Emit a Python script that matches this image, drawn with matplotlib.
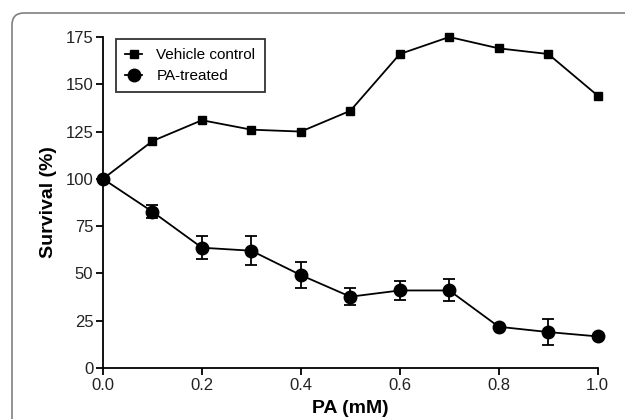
import matplotlib
matplotlib.use("Agg")
import matplotlib.pyplot as plt
from matplotlib.path import Path
from matplotlib.patches import PathPatch
from matplotlib.lines import Line2D

plt.rcParams['font.family'] = ['Liberation Sans', 'DejaVu Sans']

x = [0.0, 0.1, 0.2, 0.3, 0.4, 0.5, 0.6, 0.7, 0.8, 0.9, 1.0]
vehicle = [100, 120, 131, 126, 125, 136, 166, 175, 169, 166, 144]
pa = [100, 82.6, 63.6, 62.0, 49.1, 37.7, 41.0, 41.0, 21.8, 19.0, 16.7]
pa_err = [0, 3.5, 6.0, 7.6, 7.0, 4.6, 5.2, 5.8, 0, 7.0, 0]
xticks = [0.0, 0.2, 0.4, 0.6, 0.8, 1.0]
yticks = [0, 25, 50, 75, 100, 125, 150, 175]

W, H = 625, 419
fig = plt.figure(figsize=(W/100, H/100), dpi=100)

# rounded outer frame (top-left corner only visible), pixel coords from top-left
x0, ytop, r = 12, 13, 12
verts = [(x0, H + 10), (x0, ytop + r), (x0, ytop), (x0 + r, ytop), (W + 10, ytop)]
codes = [Path.MOVETO, Path.LINETO, Path.CURVE3, Path.CURVE3, Path.LINETO]
verts = [(vx / W, 1 - vy / H) for vx, vy in verts]
frame = PathPatch(Path(verts, codes), transform=fig.transFigure, fill=False,
                  edgecolor='#808080', linewidth=1.2)
fig.patches.append(frame)

ax = fig.add_axes([103/W, 51/H, (597.7-103)/W, (368-37)/H])
ax.plot(x, vehicle, color='black', marker='s', markersize=6, linewidth=1.3,
        clip_on=False, zorder=3)
ax.errorbar(x, pa, yerr=pa_err, color='black', marker='o', markersize=9,
            linewidth=1.3, elinewidth=1.3, capsize=4, capthick=1.3,
            clip_on=False, zorder=3)

ax.set_xlim(0, 1.0)
ax.set_ylim(0, 175)
ax.set_xticks(xticks)
ax.set_xticklabels([f"{t:.1f}" for t in xticks])
ax.set_yticks(yticks)
for s in ['top', 'right']:
    ax.spines[s].set_visible(False)
for s in ['left', 'bottom']:
    ax.spines[s].set_linewidth(1.3)
ax.tick_params(direction='out', length=5, width=1.3, labelsize=12, colors='black',
               labelcolor='#222222', pad=2)
ax.set_xlabel('PA (mM)', fontsize=14, fontweight='bold', labelpad=5)
ax.set_ylabel('Survival (%)', fontsize=14, fontweight='bold', labelpad=6)

handles = [Line2D([], [], color='black', marker='s', markersize=6, linewidth=1.3),
           Line2D([], [], color='black', marker='o', markersize=9, linewidth=1.3)]
leg = ax.legend(handles, ['Vehicle control', 'PA-treated'], loc='upper left',
                bbox_to_anchor=(13/494.7, 1.0 - 2/331), frameon=True,
                fancybox=False, edgecolor='black', fontsize=11, handlelength=1.1,
                borderpad=0.6, labelspacing=0.45, handletextpad=0.95,
                borderaxespad=0.0)
leg.get_frame().set_linewidth(1.3)

fig.savefig('out.png', dpi=100)
